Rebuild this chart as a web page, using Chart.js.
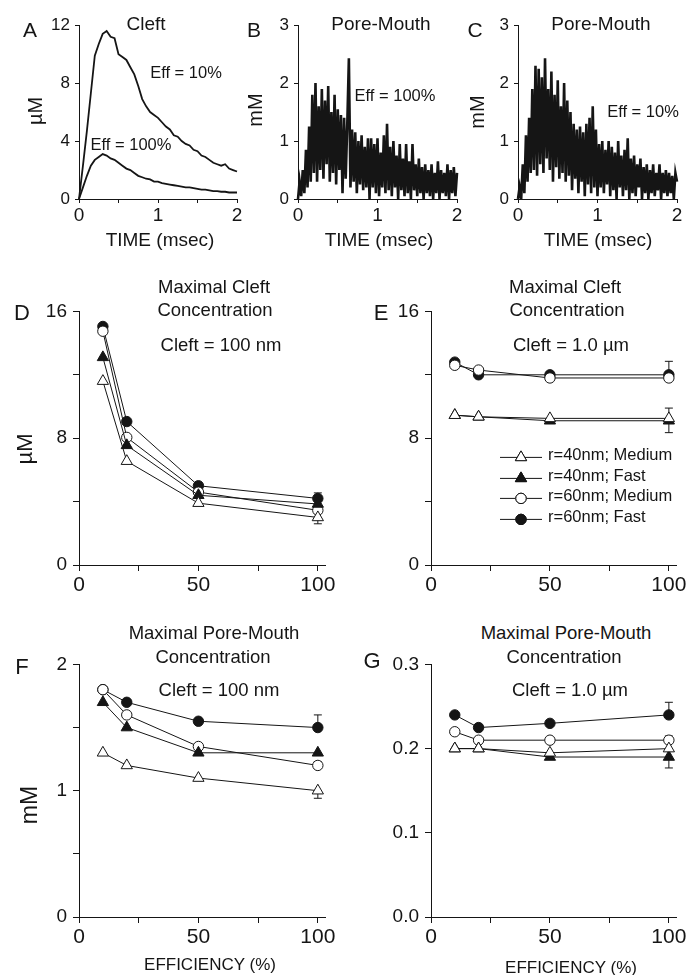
<!DOCTYPE html>
<html>
<head>
<meta charset="utf-8">
<script src="https://cdn.jsdelivr.net/npm/chart.js@4.4.1/dist/chart.umd.min.js"></script>
<style>
body { margin:0; background:#fff; width:688px; height:975px; position:relative; overflow:hidden;
       font-family:Arial, "Liberation Sans", Helvetica, sans-serif; color:#151515; }
canvas { position:absolute; }
.t { position:absolute; white-space:nowrap; line-height:1; }
</style>
</head>
<body>
<script>
// ---- top row: time courses (msec) ----
const timeA = [0,0.05,0.1,0.15,0.2,0.25,0.3,0.35,0.4,0.45,0.5,0.55,0.6,0.65,0.7,0.75,0.8,0.85,0.9,0.95,
  1,1.05,1.1,1.15,1.2,1.25,1.3,1.35,1.4,1.45,1.5,1.55,1.6,1.65,1.7,1.75,1.8,1.85,1.9,1.95,2];
const cleftEff10 = [0,2.3,4.7,7.3,9.9,10.7,11.4,11.6,11.2,11.1,10.0,9.8,9.6,9.1,8.6,7.8,6.9,6.4,6.0,5.8,
  5.6,5.3,5.0,4.8,4.4,4.3,4.0,3.8,3.7,3.4,3.3,3.0,2.9,2.7,2.5,2.4,2.3,2.4,2.1,2.0,1.9];
const cleftEff100 = [0,0.8,1.6,2.3,2.7,2.9,3.1,3.0,2.8,2.7,2.5,2.3,2.1,2.0,1.8,1.6,1.5,1.4,1.35,1.2,
  1.2,1.1,1.05,1.0,0.95,0.9,0.85,0.8,0.8,0.75,0.7,0.65,0.65,0.6,0.55,0.55,0.5,0.5,0.45,0.45,0.45];

const timeBC = [0,0.02,0.04,0.06,0.08,0.1,0.12,0.14,0.16,0.18,0.2,0.22,0.24,0.26,0.28,0.3,0.32,0.34,0.36,0.38,
  0.4,0.42,0.44,0.46,0.48,0.5,0.52,0.54,0.56,0.58,0.6,0.62,0.64,0.66,0.68,0.7,0.72,0.74,0.76,0.78,
  0.8,0.82,0.84,0.86,0.88,0.9,0.92,0.94,0.96,0.98,1,1.02,1.04,1.06,1.08,1.1,1.12,1.14,1.16,1.18,
  1.2,1.22,1.24,1.26,1.28,1.3,1.32,1.34,1.36,1.38,1.4,1.42,1.44,1.46,1.48,1.5,1.52,1.54,1.56,1.58,
  1.6,1.62,1.64,1.66,1.68,1.7,1.72,1.74,1.76,1.78,1.8,1.82,1.84,1.86,1.88,1.9,1.92,1.94,1.96,1.98,2];
const poreEff100 = [0,0.3,0.05,0.5,0.1,0.85,0.2,1.25,0.3,1.8,0.45,2.0,0.3,1.6,0.5,1.9,0.35,1.7,0.6,1.95,
  0.3,1.5,0.45,1.8,0.25,1.55,0.5,1.45,0.1,1.4,0.35,1.3,2.43,0.2,1.2,0.3,1.15,0.1,1.0,0.25,
  1.1,0.15,0.9,0.2,1.05,0.0,1.05,0.2,0.95,0.1,1.05,0.05,0.8,0.2,1.1,0.1,1.3,0.15,0.9,0.05,
  1.0,0.2,0.75,0.0,0.95,0.15,0.7,0.05,0.95,0.1,0.65,0.0,0.95,0.15,0.6,0.05,0.7,0.1,0.55,0.0,
  0.6,0.1,0.5,0.05,0.6,0.0,0.45,0.1,0.65,0.0,0.5,0.1,0.45,0.05,0.6,0.0,0.5,0.1,0.55,0.05,0.45];
const poreEff10 = [0,0.2,0.0,0.6,0.1,1.1,0.3,1.4,0.45,1.9,0.5,2.3,0.4,2.25,0.6,2.1,0.45,2.43,0.7,1.9,
  0.5,2.2,0.3,1.8,0.55,2.05,0.35,1.6,0.45,2.0,0.3,1.7,0.4,1.5,0.15,1.3,0.35,1.2,0.1,1.25,
  0.3,1.15,0.05,1.3,0.25,1.4,0.1,1.6,0.2,1.2,0.05,0.95,0.2,1.0,0.1,0.85,0.25,1.0,0.05,0.9,
  0.15,0.8,0.0,1.0,0.2,0.75,0.05,0.85,0.15,1.05,0.0,0.7,0.1,0.75,0.05,0.6,0.2,0.7,0.0,0.55,
  0.1,0.6,0.0,0.5,0.1,0.6,0.05,0.45,0.15,0.6,0.0,0.45,0.1,0.5,0.05,0.45,0.1,0.4,0.0,0.45,0.3];

// ---- bottom panels: maximal concentration vs efficiency (%) ----
const effX = [10, 20, 50, 100];
const seriesNames = ['r=40nm; Medium', 'r=40nm; Fast', 'r=60nm; Medium', 'r=60nm; Fast'];
const dR40Med = [11.6, 6.55, 3.9, 3.0];
const dR40Fast = [13.1, 7.55, 4.4, 3.85];
const dR60Med = [14.75, 8.05, 4.6, 3.45];
const dR60Fast = [15.05, 9.05, 5.0, 4.2];
const eR40Med = [9.45, 9.35, 9.25, 9.25];
const eR40Fast = [9.45, 9.35, 9.1, 9.1];
const eR60Med = [12.6, 12.3, 11.8, 11.8];
const eR60Fast = [12.8, 12.0, 12.0, 12.0];
const fR40Med = [1.3, 1.2, 1.1, 1.0];
const fR40Fast = [1.7, 1.5, 1.3, 1.3];
const fR60Med = [1.8, 1.6, 1.35, 1.2];
const fR60Fast = [1.8, 1.7, 1.55, 1.5];
const gR40Med = [0.2, 0.2, 0.195, 0.2];
const gR40Fast = [0.2, 0.2, 0.19, 0.19];
const gR60Med = [0.22, 0.21, 0.21, 0.21];
const gR60Fast = [0.24, 0.225, 0.23, 0.24];
// error bars: [series index, point index, end value]
const dErr = [[3, 3, 4.55], [0, 3, 2.6]];
const eErr = [[2, 3, 12.85], [0, 3, 9.9], [1, 3, 8.35]];
const fErr = [[3, 3, 1.6], [0, 3, 0.94], [2, 3, 1.23]];
const gErr = [[3, 3, 0.255], [1, 3, 0.177], [2, 3, 0.215]];

// tick values
const timeTicks = [0, 0.5, 1, 1.5, 2];
const effTicks = [0, 25, 50, 75, 100];

const FONT = 'Arial, "Liberation Sans", Helvetica, sans-serif';
const INK = '#151515';
Chart.defaults.font.family = FONT;
Chart.defaults.color = INK;

const errorBars = {
  id: 'errorBars',
  beforeDatasetsDraw(chart, args, opts) {
    if (!opts.bars) return;
    const ctx = chart.ctx, ys = chart.scales.y, xs = chart.scales.x;
    ctx.save();
    ctx.strokeStyle = INK;
    ctx.lineWidth = 1;
    opts.bars.forEach(([si, pi, end]) => {
      const p = chart.data.datasets[si].data[pi];
      const px = xs.getPixelForValue(p.x);
      const y0 = ys.getPixelForValue(p.y), y1 = ys.getPixelForValue(end);
      ctx.beginPath();
      ctx.moveTo(px, y0); ctx.lineTo(px, y1);
      ctx.moveTo(px - 4, y1); ctx.lineTo(px + 4, y1);
      ctx.stroke();
    });
    ctx.restore();
  }
};

const legendMarks = {
  id: 'legendMarks',
  afterDatasetsDraw(chart, args, opts) {
    if (!opts.rows) return;
    const ctx = chart.ctx, a = chart.chartArea;
    ctx.save();
    opts.rows.forEach((dy, i) => {
      const ds = chart.data.datasets[i];
      const y = a.top + dy;
      ctx.strokeStyle = INK; ctx.lineWidth = 1;
      ctx.beginPath(); ctx.moveTo(a.left + 69, y); ctx.lineTo(a.left + 111, y); ctx.stroke();
      ctx.fillStyle = ds.pointBackgroundColor;
      Chart.helpers.drawPoint(ctx, {pointStyle: ds.pointStyle, radius: ds.pointRadius, borderWidth: 1, rotation: 0}, a.left + 90, y);
      ctx.fill(); ctx.stroke();
    });
    ctx.restore();
  }
};

function scale(s, size, horiz) {
  return {
    type: 'linear', min: s.min, max: s.max,
    afterBuildTicks: sc => { sc.ticks = s.ticks.map(v => ({value: v})); },
    afterFit: sc => { if (horiz) sc.height = size; else sc.width = size; },
    ticks: {
      autoSkip: false, maxRotation: 0, padding: s.pad, color: INK,
      font: {size: s.font},
      callback: v => s.labels.includes(v) ? (s.fmt ? s.fmt(v) : String(v)) : ''
    },
    grid: {drawOnChartArea: false, drawTicks: true, tickLength: s.tick, color: INK, lineWidth: 1},
    border: {display: true, color: INK, width: 1}
  };
}

function panel(box, xs, ys, datasets, plug) {
  const W = 50, XH = 44, PT = 14, PR = 16;
  const left = box.L - W, top = box.T - PT;
  const w = box.R - left + PR, h = box.B - top + XH;
  const c = document.createElement('canvas');
  c.width = w; c.height = h;
  c.style.left = left + 'px'; c.style.top = top + 'px';
  c.style.width = w + 'px'; c.style.height = h + 'px';
  document.body.appendChild(c);
  new Chart(c, {
    type: 'line',
    data: {datasets},
    options: {
      responsive: false, animation: false,
      layout: {padding: {top: PT, right: PR, left: 0, bottom: 0}},
      plugins: Object.assign({legend: {display: false}, tooltip: {enabled: false}}, plug || {}),
      scales: {x: scale(xs, XH, true), y: scale(ys, W, false)}
    },
    plugins: [errorBars, legendMarks]
  });
}

function trace(xv, yv, bw) {
  return {data: xv.map((x, i) => ({x, y: yv[i]})), borderColor: INK, borderWidth: bw,
          pointRadius: 0, tension: 0, clip: false, borderJoinStyle: 'miter'};
}

function markers(yv, style, filled) {
  return {data: effX.map((x, i) => ({x, y: yv[i]})), borderColor: INK, borderWidth: 1,
          pointStyle: style, pointRadius: style === 'triangle' ? 6.5 : 5.2,
          pointBackgroundColor: filled ? INK : '#fff', pointBorderColor: INK, pointBorderWidth: 1,
          tension: 0, clip: false};
}

function four(a, b, c, d) {
  return [markers(a, 'triangle', false), markers(b, 'triangle', true),
          markers(c, 'circle', false), markers(d, 'circle', true)];
}

const timeX = {min: 0, max: 2, ticks: timeTicks, labels: [0, 1, 2], font: 19, pad: 1, tick: 4};
const effAxis = {min: 0, max: 103, ticks: effTicks, labels: [0, 50, 100], font: 21, pad: 2, tick: 6};

panel({L: 79, R: 237, T: 24, B: 199}, timeX,
  {min: 0, max: 12, ticks: [0, 4, 8, 12], labels: [0, 4, 8, 12], font: 17, pad: 5, tick: 4},
  [trace(timeA, cleftEff10, 1.8), trace(timeA, cleftEff100, 1.8)]);
panel({L: 298, R: 457, T: 24, B: 199}, timeX,
  {min: 0, max: 3, ticks: [0, 1, 2, 3], labels: [0, 1, 2, 3], font: 17, pad: 5, tick: 4},
  [trace(timeBC, poreEff100, 2.6)]);
panel({L: 518, R: 677, T: 24, B: 199}, timeX,
  {min: 0, max: 3, ticks: [0, 1, 2, 3], labels: [0, 1, 2, 3], font: 17, pad: 5, tick: 4},
  [trace(timeBC, poreEff10, 2.6)]);

panel({L: 79, R: 325, T: 308, B: 565}, effAxis,
  {min: 0, max: 16, ticks: [0, 4, 8, 12, 16], labels: [0, 8, 16], font: 19, pad: 6, tick: 6},
  four(dR40Med, dR40Fast, dR60Med, dR60Fast), {errorBars: {bars: dErr}});
panel({L: 431, R: 676, T: 308, B: 565}, effAxis,
  {min: 0, max: 16, ticks: [0, 4, 8, 12, 16], labels: [0, 8, 16], font: 19, pad: 6, tick: 6},
  four(eR40Med, eR40Fast, eR60Med, eR60Fast),
  {errorBars: {bars: eErr}, legendMarks: {rows: [146, 167, 187, 208]}});
panel({L: 79, R: 325, T: 661, B: 917}, effAxis,
  {min: 0, max: 2, ticks: [0, 0.5, 1, 1.5, 2], labels: [0, 1, 2], font: 19, pad: 6, tick: 6},
  four(fR40Med, fR40Fast, fR60Med, fR60Fast), {errorBars: {bars: fErr}});
panel({L: 431, R: 676, T: 661, B: 917}, effAxis,
  {min: 0, max: 0.3, ticks: [0, 0.1, 0.2, 0.3], labels: [0, 0.1, 0.2, 0.3], fmt: v => v.toFixed(1),
   font: 19, pad: 6, tick: 6},
  four(gR40Med, gR40Fast, gR60Med, gR60Fast), {errorBars: {bars: gErr}});

// ---- text ----
function txt(s, x, y, size, opt) {
  opt = opt || {};
  const d = document.createElement('div');
  d.className = 't';
  d.textContent = s;
  d.style.fontSize = size + 'px';
  d.style.left = x + 'px';
  d.style.top = y + 'px';
  let tr = opt.left ? 'translate(0,-50%)' : 'translate(-50%,-50%)';
  if (opt.rot) tr += ' rotate(-90deg)';
  d.style.transform = tr;
  document.body.appendChild(d);
}

// panel letters
txt('A', 30, 29, 21); txt('B', 254, 29, 21); txt('C', 475, 29, 21);
txt('D', 22, 313, 22); txt('E', 381, 313, 22);
txt('F', 22, 667, 22); txt('G', 372, 661, 22);

// top row
txt('Cleft', 146, 23, 19);
txt('Pore-Mouth', 381, 23, 19);
txt('Pore-Mouth', 601, 23, 19);
txt('Eff = 10%', 186, 72, 16.5);
txt('Eff = 100%', 131, 144, 16.5);
txt('Eff = 100%', 395, 95, 16.5);
txt('Eff = 10%', 643, 111, 16.5);
txt('\u00b5M', 35, 111, 20, {rot: true});
txt('mM', 255, 110, 20, {rot: true});
txt('mM', 477, 112, 20, {rot: true});
txt('TIME (msec)', 160, 239, 19);
txt('TIME (msec)', 379, 239, 19);
txt('TIME (msec)', 598, 239, 19);

// middle row
txt('Maximal Cleft', 214, 287, 18.5);
txt('Concentration', 215, 310, 18.5);
txt('Cleft = 100 nm', 221, 345, 18.5);
txt('Maximal Cleft', 565, 287, 18.5);
txt('Concentration', 567, 310, 18.5);
txt('Cleft = 1.0 \u00b5m', 571, 345, 18.5);
txt('\u00b5M', 25, 449, 22, {rot: true});
[454, 475, 495, 516].forEach((y, i) => txt(seriesNames[i], 548, y, 16.5, {left: true}));

// bottom row
txt('Maximal Pore-Mouth', 214, 633, 18.5);
txt('Concentration', 213, 657, 18.5);
txt('Cleft = 100 nm', 219, 690, 18.5);
txt('Maximal Pore-Mouth', 566, 633, 18.5);
txt('Concentration', 564, 657, 18.5);
txt('Cleft = 1.0 \u00b5m', 570, 690, 18.5);
txt('mM', 29, 805, 23, {rot: true});
txt('EFFICIENCY (%)', 210, 964, 17);
txt('EFFICIENCY (%)', 571, 967, 17);
</script>
</body>
</html>
